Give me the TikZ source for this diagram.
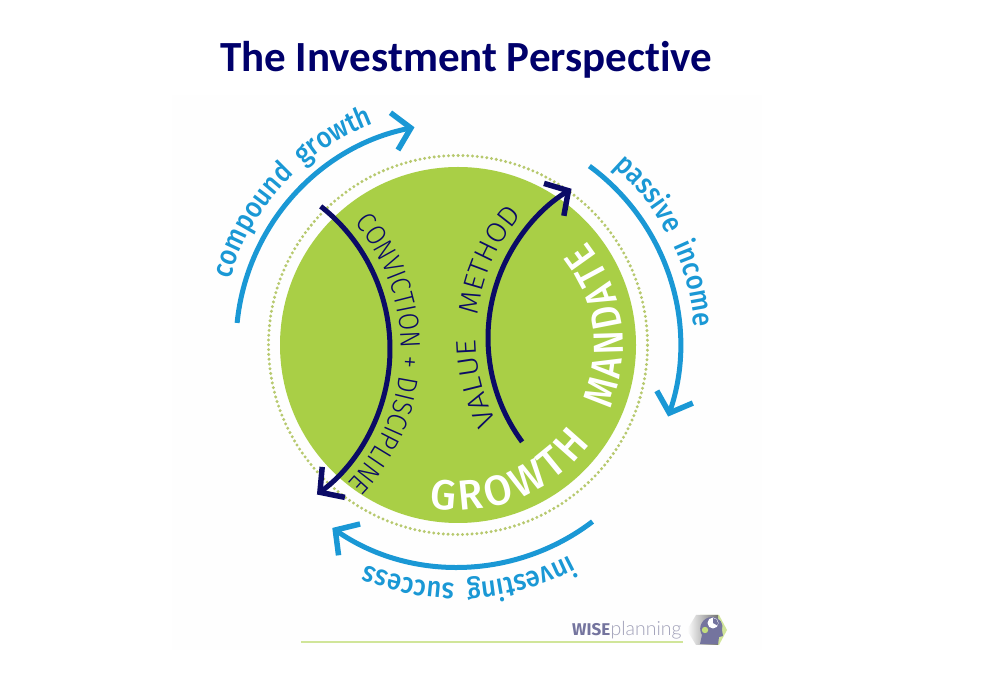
\documentclass[tikz,border=0pt]{standalone}
\usepackage{fontspec}
\setmainfont{Fira Sans}[Kerning=Off,Ligatures=NoCommon]
\newfontfamily\titlefont{Carlito}[Ligatures=NoCommon]
\newfontfamily\thinfont{Lato Light}[Kerning=Off,Ligatures=NoCommon]
\usetikzlibrary{decorations.text,arrows.meta,calc}
\definecolor{bluearc}{HTML}{1A98D5}
\definecolor{navyarc}{HTML}{0B0B66}
\definecolor{ballgreen}{HTML}{A9CF46}
\definecolor{dotgreen}{HTML}{B7C96E}
\definecolor{titlenavy}{HTML}{00006B}
\definecolor{logotext}{HTML}{74749E}
\definecolor{logolight}{HTML}{A0A0B8}
\tikzset{
  bluearrow/.style={draw=bluearc,line width=5pt,-{Straight Barb[length=17pt,width=38pt,line width=5.5pt]}},
  navyarrow/.style={draw=navyarc,line width=5pt,-{Straight Barb[length=17pt,width=38pt,line width=5.5pt]}}
}
\newsavebox\measurebox
\newlength\measurelen
% centre, radius, start angle, end angle, font, size, colour, text
\newcommand{\arclabel}[8]{%
  \pgfinterruptpicture
  \global\setbox\measurebox\hbox{\fontspec{#5}[Kerning=Off,Ligatures=NoCommon]\fontsize{#6}{#6}\selectfont #8}%
  \endpgfinterruptpicture
  \setlength\measurelen{\wd\measurebox}%
  \pgfmathsetmacro\stretchval{abs(#4-(#3))*pi/180*#2/\measurelen}%
  \pgfmathsetmacro\overrun{#4+12*sign(#4-(#3))}%
  \path[decoration={text along path,text={|\fontspec{#5}[Kerning=Off,Ligatures=NoCommon,FakeStretch=\stretchval]\fontsize{#6}{#6}\selectfont\color{#7}|#8}},decorate]
    ($(#1)+(#3:#2)$) arc[start angle=#3,end angle=\overrun,radius=#2];%
}
\begin{document}
\begin{tikzpicture}[x=1pt,y=1pt]
\useasboundingbox (0,0) rectangle (981,687);
\fill[black!0.4] (172,37) rectangle (762,592);
\coordinate (c) at (458,342);
\coordinate (cl) at (208.5,338);
\coordinate (cr) at (663,349);
% ball
\fill[ballgreen] (c) circle[radius=178];
\draw[dotgreen,line width=3.3pt,line cap=round,dash pattern=on 0pt off 4.8pt] (c) circle[radius=189.5];
% outer arrows
\draw[bluearrow] ($(c)+(174.3:222)$) arc[start angle=174.3,end angle=101.3,radius=222];
\draw[bluearrow] ($(c)+(53.7:222)$) arc[start angle=53.7,end angle=-18.8,radius=222];
\draw[bluearrow] ($(c)+(-52.7:222)$) arc[start angle=-52.7,end angle=-124.5,radius=222];
% outer labels
\arclabel{c}{237}{164}{111}{Fira Sans Medium}{29}{bluearc}{compoun{d\kern6pt} growth}
\arclabel{c}{237}{49}{4.5}{Fira Sans Medium}{29}{bluearc}{passiv{e\kern6pt} income}
\arclabel{c}{238}{-62}{-112.5}{Fira Sans Medium}{29}{bluearc}{investin{g\kern6pt} success}
% inner arrows
\draw[navyarrow] ($(cl)+(51.8:181.5)$) arc[start angle=51.8,end angle=-53.3,radius=181.5];
\draw[navyarrow] ($(cr)+(216.4:175)$) arc[start angle=216.4,end angle=121.5,radius=175];
% inner labels
\arclabel{cl}{193}{41}{-44}{Fira Sans Light}{28}{navyarc}{CONVICTION + DISCIPLINE}
\arclabel{cr}{187}{207}{180.5}{Fira Sans Light}{28}{navyarc}{VALUE}
\arclabel{cr}{187}{173}{139}{Fira Sans Light}{28}{navyarc}{METHOD}
\arclabel{c}{165}{-100}{-37}{Fira Sans Medium}{42}{white}{{G\kern4pt}{R\kern4pt}{O\kern4pt}{W\kern4pt}{T\kern4pt}{H}}
\arclabel{c}{165}{-23}{37.5}{Fira Sans Medium}{42}{white}{{M\kern4pt}{A\kern4pt}{N\kern4pt}{D\kern4pt}{A\kern4pt}{T\kern4pt}{E}}
% title
\node[anchor=base west,inner sep=0pt,font=\titlefont\bfseries\fontsize{43}{43}\selectfont,text=titlenavy] (title) at (220,615) {The Investment Perspective};
% footer
\coordinate (ruleleft) at (301,45);
\coordinate (ruleright) at (683,45);
\draw[draw=ballgreen!55,line width=1.6pt] (ruleleft) -- (ruleright);
\node[anchor=base west,inner sep=0pt,text=logotext,font=\bfseries\fontsize{17}{17}\selectfont] (wise) at (572,51) {WISE};
\node[anchor=base west,inner sep=0pt,text=logolight,font=\thinfont\fontsize{19.5}{19.5}\selectfont] (plan) at (wise.base east) {planning};
% logo
\fill[ballgreen!55] (727,57) -- (719,72) -- (700,72) -- (692,57) -- (700,42) -- (719,42) -- cycle;
\shade[left color=white,right color=black!55] (687,57) -- (696,72) -- (718,72) -- (718,42) -- (696,42) -- cycle;
\fill[logotext] (700,43) -- (702,52) .. controls (697,60) and (703,70) .. (712,70) .. controls (720,70) and (724,63) .. (722,57) -- (723,51) -- (719,50) -- (718,43) -- cycle;
\fill[white] (713,64) circle[radius=5.5];
\fill[logotext] (713,64) -- (713,69) arc[start angle=90,end angle=-30,radius=5] -- cycle;
\fill[ballgreen!70] (705,57) circle[radius=3.2];
\end{tikzpicture}
\end{document}
